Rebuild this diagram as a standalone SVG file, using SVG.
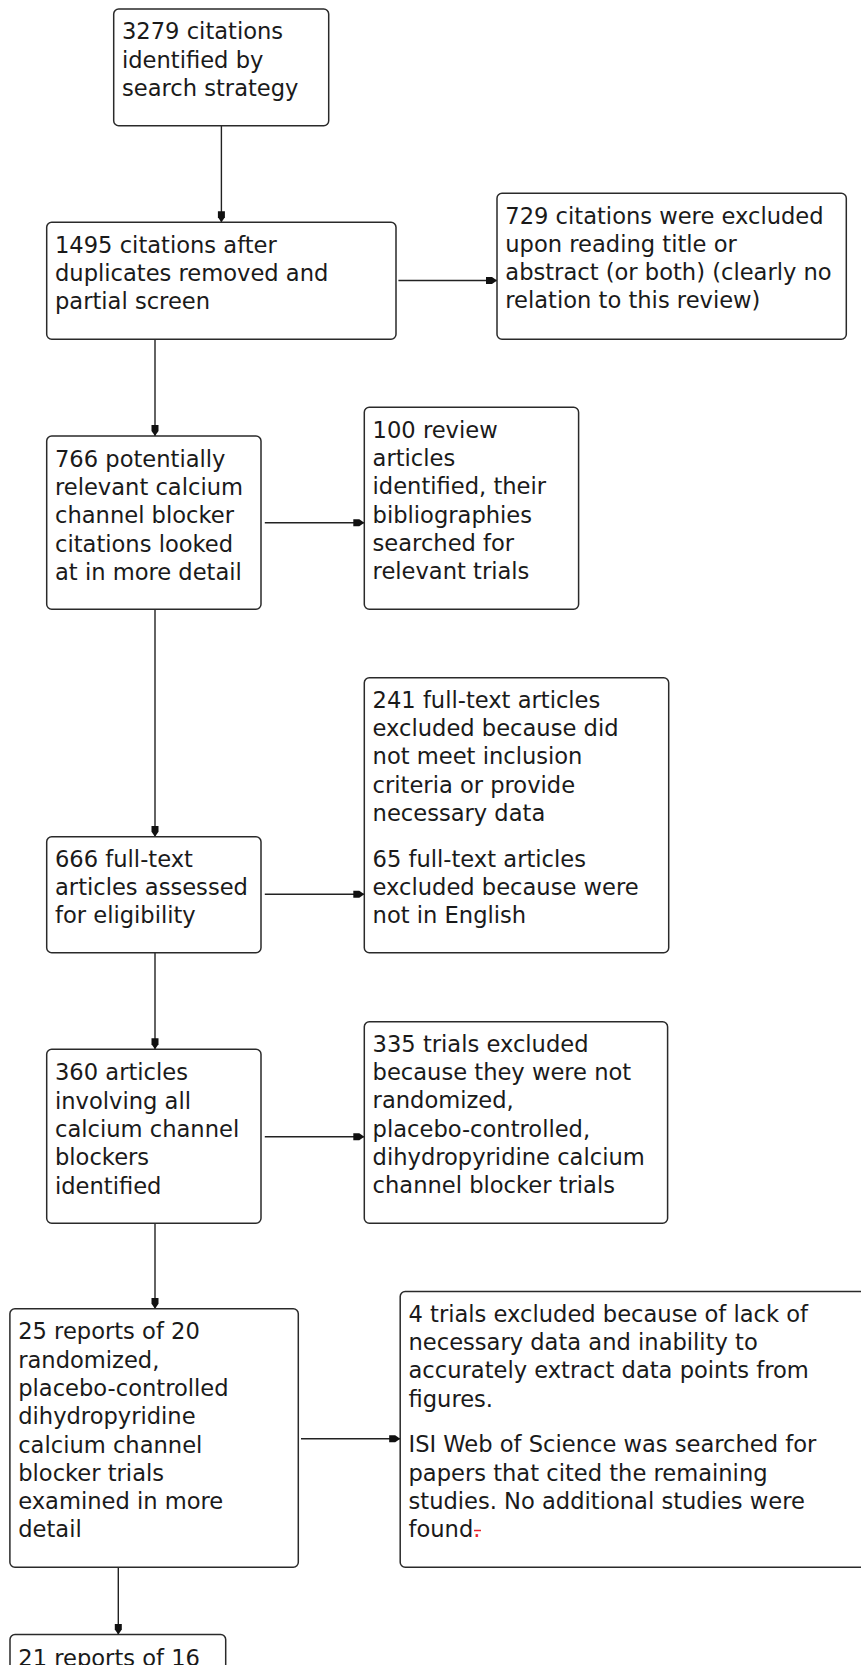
<svg xmlns="http://www.w3.org/2000/svg" width="861" height="1665" viewBox="0 0 861 1665">
<style>
.box{fill:#fff;stroke:#2a2a2a;stroke-width:1.5}
.t{font-family:"DejaVu Sans","Liberation Sans",sans-serif;font-size:22.6px;fill:#1a1a1a}
.c{stroke:#222;stroke-width:1.4;fill:none;marker-end:url(#ah)}
</style>
<defs>
<marker id="ah" markerUnits="userSpaceOnUse" markerWidth="12" markerHeight="10" refX="11" refY="5" orient="auto">
<path d="M0,1.5 L6,1.5 L11,5 L6,8.5 L0,8.5 Z" fill="#111"/>
</marker>
</defs>
<rect width="861" height="1665" fill="#fff"/>
<g id="connectors">
<line class="c" x1="221.4" y1="125.7" x2="221.4" y2="222.2"/>
<line class="c" x1="398.4" y1="280.5" x2="497" y2="280.5"/>
<line class="c" x1="155" y1="339.3" x2="155" y2="436"/>
<line class="c" x1="264.8" y1="522.7" x2="364.3" y2="522.7"/>
<line class="c" x1="155" y1="609.3" x2="155" y2="836.7"/>
<line class="c" x1="264.8" y1="894.3" x2="364.3" y2="894.3"/>
<line class="c" x1="155" y1="952.7" x2="155" y2="1049.3"/>
<line class="c" x1="264.8" y1="1136.7" x2="364.3" y2="1136.7"/>
<line class="c" x1="155" y1="1223.3" x2="155" y2="1308.7"/>
<line class="c" x1="301" y1="1438.7" x2="400.2" y2="1438.7"/>
<line class="c" x1="118.3" y1="1567.2" x2="118.3" y2="1634.5"/>
</g>
<g id="n1">
<rect class="box" x="113.7" y="9" width="215" height="116.7" rx="5"/>
<text class="t"><tspan x="122" y="39.3">3279 citations</tspan><tspan x="122" y="67.6">identified by</tspan><tspan x="122" y="95.9">search strategy</tspan></text>
</g>
<g id="n2">
<rect class="box" x="46.7" y="222.2" width="349.3" height="117.1" rx="5"/>
<text class="t"><tspan x="55" y="252.5">1495 citations after</tspan><tspan x="55" y="280.8">duplicates removed and</tspan><tspan x="55" y="309.1">partial screen</tspan></text>
</g>
<g id="n3">
<rect class="box" x="497" y="193.3" width="349.3" height="146" rx="5"/>
<text class="t"><tspan x="505.3" y="223.5">729 citations were excluded</tspan><tspan x="505.3" y="251.8">upon reading title or</tspan><tspan x="505.3" y="280.1">abstract (or both) (clearly no</tspan><tspan x="505.3" y="308.4">relation to this review)</tspan></text>
</g>
<g id="n4">
<rect class="box" x="46.7" y="436" width="214.3" height="173.3" rx="5"/>
<text class="t"><tspan x="55" y="466.7">766 potentially</tspan><tspan x="55" y="495">relevant calcium</tspan><tspan x="55" y="523.3">channel blocker</tspan><tspan x="55" y="551.6">citations looked</tspan><tspan x="55" y="579.9">at in more detail</tspan></text>
</g>
<g id="n5">
<rect class="box" x="364.3" y="407.3" width="214.3" height="202" rx="5"/>
<text class="t"><tspan x="372.6" y="437.7">100 review</tspan><tspan x="372.6" y="466">articles</tspan><tspan x="372.6" y="494.3">identified, their</tspan><tspan x="372.6" y="522.6">bibliographies</tspan><tspan x="372.6" y="550.9">searched for</tspan><tspan x="372.6" y="579.2">relevant trials</tspan></text>
</g>
<g id="n6">
<rect class="box" x="46.7" y="836.7" width="214.3" height="116" rx="5"/>
<text class="t"><tspan x="55" y="866.7">666 full-text</tspan><tspan x="55" y="895">articles assessed</tspan><tspan x="55" y="923.3">for eligibility</tspan></text>
</g>
<g id="n7">
<rect class="box" x="364.3" y="677.7" width="304.4" height="275" rx="5"/>
<text class="t"><tspan x="372.6" y="707.7">241 full-text articles</tspan><tspan x="372.6" y="736">excluded because did</tspan><tspan x="372.6" y="764.3">not meet inclusion</tspan><tspan x="372.6" y="792.6">criteria or provide</tspan><tspan x="372.6" y="820.9">necessary data</tspan><tspan x="372.6" y="866.7">65 full-text articles</tspan><tspan x="372.6" y="895">excluded because were</tspan><tspan x="372.6" y="923.3">not in English</tspan></text>
</g>
<g id="n8">
<rect class="box" x="46.7" y="1049.3" width="214.3" height="174" rx="5"/>
<text class="t"><tspan x="55" y="1080.3">360 articles</tspan><tspan x="55" y="1108.6">involving all</tspan><tspan x="55" y="1136.9">calcium channel</tspan><tspan x="55" y="1165.2">blockers</tspan><tspan x="55" y="1193.5">identified</tspan></text>
</g>
<g id="n9">
<rect class="box" x="364.3" y="1021.7" width="303.3" height="201.6" rx="5"/>
<text class="t"><tspan x="372.6" y="1051.7">335 trials excluded</tspan><tspan x="372.6" y="1080">because they were not</tspan><tspan x="372.6" y="1108.3">randomized,</tspan><tspan x="372.6" y="1136.6">placebo-controlled,</tspan><tspan x="372.6" y="1164.9">dihydropyridine calcium</tspan><tspan x="372.6" y="1193.2">channel blocker trials</tspan></text>
</g>
<g id="n10">
<rect class="box" x="9.9" y="1308.7" width="288.4" height="258.5" rx="5"/>
<text class="t"><tspan x="18.2" y="1339.3">25 reports of 20</tspan><tspan x="18.2" y="1367.6">randomized,</tspan><tspan x="18.2" y="1395.9">placebo-controlled</tspan><tspan x="18.2" y="1424.2">dihydropyridine</tspan><tspan x="18.2" y="1452.5">calcium channel</tspan><tspan x="18.2" y="1480.8">blocker trials</tspan><tspan x="18.2" y="1509.1">examined in more</tspan><tspan x="18.2" y="1537.4">detail</tspan></text>
</g>
<g id="n11">
<rect class="box" x="400.2" y="1291.5" width="480" height="275.7" rx="5"/>
<text class="t"><tspan x="408.5" y="1321.7">4 trials excluded because of lack of</tspan><tspan x="408.5" y="1350">necessary data and inability to</tspan><tspan x="408.5" y="1378.3">accurately extract data points from</tspan><tspan x="408.5" y="1406.6">figures.</tspan><tspan x="408.5" y="1452.3">ISI Web of Science was searched for</tspan><tspan x="408.5" y="1480.6">papers that cited the remaining</tspan><tspan x="408.5" y="1508.9">studies. No additional studies were</tspan><tspan x="408.5" y="1537.2">found</tspan><tspan fill="#e8202a">.</tspan></text>
<line x1="474" y1="1530.5" x2="481" y2="1530.5" stroke="#e8202a" stroke-width="1.5"/>
</g>
<g id="n12">
<rect class="box" x="10" y="1634.5" width="215.7" height="60" rx="5"/>
<text class="t"><tspan x="18.3" y="1665.5">21 reports of 16</tspan></text>
</g>
</svg>
